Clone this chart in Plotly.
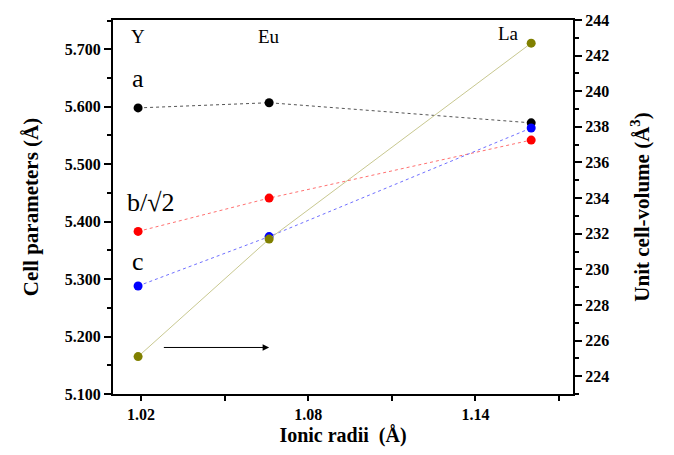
import plotly.graph_objects as go

# Data
elements = ["Y", "Eu", "La"]
ionic_radii = [1.019, 1.066, 1.160]
a_param = [5.598, 5.607, 5.572]
b_param = [5.383, 5.441, 5.542]
c_param = [5.288, 5.374, 5.563]
volume = [225.1, 231.7, 242.7]

x_ticks = [1.02, 1.08, 1.14]
x_minor = [1.05, 1.11, 1.17]
left_ticks = [5.1, 5.2, 5.3, 5.4, 5.5, 5.6, 5.7]
right_ticks = [224, 226, 228, 230, 232, 234, 236, 238, 240, 242, 244]

SERIF = "'Liberation Serif', 'Times New Roman', Times, serif"

fig = go.Figure()

def add_series(y, color, linecolor, dash, yaxis="y"):
    fig.add_trace(go.Scatter(
        x=ionic_radii, y=y, mode="lines+markers", yaxis=yaxis,
        line=dict(color=linecolor, width=1, dash=dash),
        marker=dict(size=9, color=color, line=dict(width=0)),
        showlegend=False, hoverinfo="skip"))

add_series(a_param, "#000000", "#555555", "dot")
add_series(b_param, "#ff0000", "#ff7070", "dot")
add_series(c_param, "#0000ff", "#7070ff", "dot")
add_series(volume, "#808000", "#c8c890", "solid", yaxis="y2")

ann_font = dict(family=SERIF, size=19, color="black")
big_font = dict(family=SERIF, size=26, color="black")

annotations = [
    dict(x=ionic_radii[0], y=5.722, text=elements[0], font=ann_font),
    dict(x=ionic_radii[1], y=5.722, text=elements[1], font=ann_font),
    dict(x=1.152, y=5.728, text=elements[2], font=ann_font),
    dict(x=ionic_radii[0], y=5.649, text="a", font=big_font),
    dict(x=1.0235, y=5.433, text="b/\u221a2", font=big_font),
    dict(x=ionic_radii[0], y=5.330, text="c", font=big_font),
]
for an in annotations:
    an.update(xref="x", yref="y", showarrow=False, xanchor="center", yanchor="middle")

annotations.append(dict(
    x=1.066, y=5.181, ax=1.0277, ay=5.181, xref="x", yref="y", axref="x", ayref="y",
    text="", showarrow=True, arrowhead=2, arrowsize=1.3, arrowwidth=1, arrowcolor="black"))

tick_font = dict(family=SERIF, size=16, color="black", weight="bold")
title_font = dict(family=SERIF, size=20, color="black", weight="bold")
ytitle_font = dict(family=SERIF, size=21, color="black", weight="bold")

fig.update_layout(
    width=674, height=455,
    margin=dict(l=113, r=101, t=13, b=61),
    paper_bgcolor="white", plot_bgcolor="white",
    annotations=annotations,
    xaxis=dict(
        range=[1.01, 1.175], tickvals=x_ticks, ticktext=[f"{v:.2f}" for v in x_ticks],
        ticks="outside", ticklen=5, tickwidth=2, tickcolor="black",
        minor=dict(tickvals=x_minor, ticks="outside", ticklen=5, tickwidth=2, tickcolor="black"),
        showline=True, linewidth=2, linecolor="black", mirror=True,
        showgrid=False, zeroline=False, tickfont=tick_font,
        title=dict(text="Ionic radii  (\u00c5)", font=title_font, standoff=6),
    ),
    yaxis=dict(
        range=[5.1, 5.751], tickvals=left_ticks, ticktext=[f"{v:.3f}" for v in left_ticks],
        ticks="outside", ticklen=7, tickwidth=2, tickcolor="black",
        minor=dict(dtick=0.05, ticks="outside", ticklen=4, tickwidth=2, tickcolor="black"),
        showline=True, linewidth=2, linecolor="black",
        showgrid=False, zeroline=False, tickfont=tick_font,
        title=dict(text="Cell parameters (\u00c5)", font=ytitle_font, standoff=20),
    ),
    yaxis2=dict(
        range=[223, 244], overlaying="y", side="right",
        tickvals=right_ticks, ticktext=[str(v) for v in right_ticks],
        ticks="outside", ticklen=7, tickwidth=2, tickcolor="black",
        minor=dict(dtick=1, ticks="outside", ticklen=4, tickwidth=2, tickcolor="black"),
        showline=True, linewidth=2, linecolor="black",
        showgrid=False, zeroline=False, tickfont=tick_font,
        title=dict(text="Unit cell-volume (\u00c5<sup>3</sup>)", font=ytitle_font, standoff=26),
    ),
)

fig.write_html("out.html")
